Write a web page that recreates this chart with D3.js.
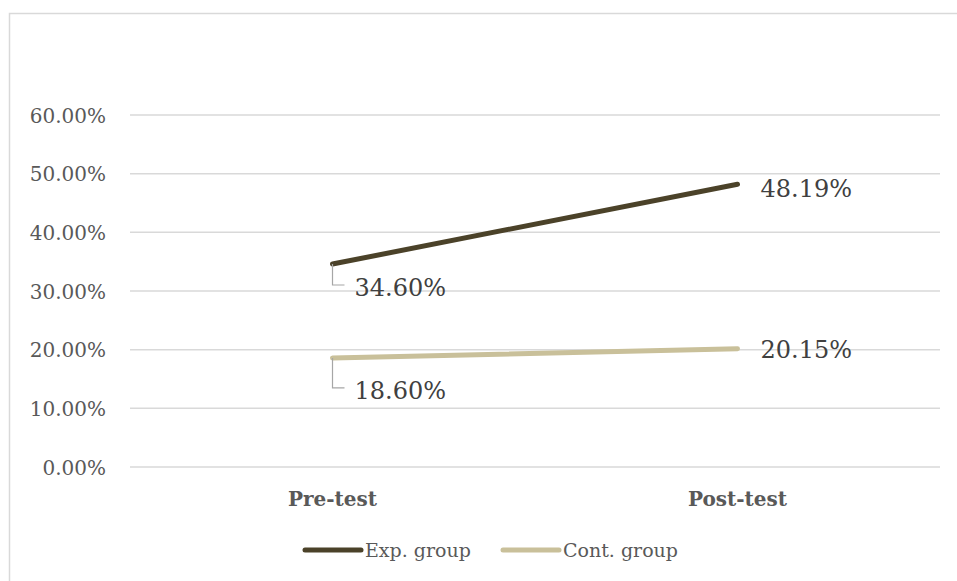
<!DOCTYPE html>
<html><head><meta charset="utf-8">
<script src="https://cdn.jsdelivr.net/npm/d3@7"></script>
<style>body{margin:0;background:#fff}svg{display:block}</style>
</head><body>
<svg id="c" width="957" height="581"></svg>
<script>
const categories = ["Pre-test", "Post-test"];
const expValues = [34.60, 48.19];
const contValues = [18.60, 20.15];
const seriesNames = ["Exp. group", "Cont. group"];
const seriesColors = ["#4b4229", "#c9c09a"];
const yTicks = [0, 10, 20, 30, 40, 50, 60];

const svg = d3.select("#c");
const font = "'DejaVu Serif', serif";
// outer frame
svg.append("path").attr("d", "M9.5,581 V13.5 H957").attr("fill", "none").attr("stroke", "#d9d9d9").attr("stroke-width", 1.5);

const x = d3.scaleBand().domain(categories).range([130, 940]);
const y = d3.scaleLinear().domain([0, 60]).range([467, 115]);

const g = svg.append("g");
g.selectAll(".grid").data(yTicks).join("line")
  .attr("x1", 130).attr("x2", 940).attr("y1", d => y(d)).attr("y2", d => y(d))
  .attr("stroke", "#d9d9d9").attr("stroke-width", 1.5);
g.selectAll(".ytl").data(yTicks).join("text")
  .attr("x", 106).attr("y", d => y(d)).attr("dy", "0.38em").attr("text-anchor", "end")
  .attr("font-family", font).attr("font-size", 20).attr("fill", "#595959")
  .text(d => d3.format(".2f")(d) + "%");
g.selectAll(".xtl").data(categories).join("text")
  .attr("x", d => x(d) + x.bandwidth() / 2).attr("y", 506).attr("text-anchor", "middle")
  .attr("font-family", font).attr("font-size", 20).attr("font-weight", "bold").attr("fill", "#595959")
  .text(d => d);

const series = [expValues, contValues];
const line = d3.line().x((d, i) => x(categories[i]) + x.bandwidth() / 2).y(d => y(d));
series.forEach((vals, s) => {
  g.append("path").attr("d", line(vals)).attr("fill", "none")
    .attr("stroke", seriesColors[s]).attr("stroke-width", 5).attr("stroke-linecap", "round");
});

// data labels
const fmt = v => d3.format(".2f")(v) + "%";
series.forEach((vals, s) => {
  const px = x(categories[0]) + x.bandwidth() / 2, py = y(vals[0]);
  const ly = s === 0 ? py + 21 : py + 30;
  g.append("path").attr("d", `M${px},${py} V${ly} H${px + 12}`).attr("fill", "none")
    .attr("stroke", "#a6a6a6").attr("stroke-width", 1.2);
  g.append("text").attr("x", px + 22).attr("y", ly).attr("dy", "0.45em")
    .attr("font-family", font).attr("font-size", 24).attr("fill", "#404040").text(fmt(vals[0]));
  const qx = x(categories[1]) + x.bandwidth() / 2, qy = y(vals[1]);
  g.append("text").attr("x", qx + 23).attr("y", qy + (s === 0 ? 4 : 0)).attr("dy", "0.38em")
    .attr("font-family", font).attr("font-size", 24).attr("fill", "#404040").text(fmt(vals[1]));
});

// legend
const legX = [305, 503];
seriesNames.forEach((n, i) => {
  svg.append("line").attr("x1", legX[i]).attr("x2", legX[i] + 56).attr("y1", 550).attr("y2", 550)
    .attr("stroke", seriesColors[i]).attr("stroke-width", 5).attr("stroke-linecap", "round");
  svg.append("text").attr("x", legX[i] + 60).attr("y", 550).attr("dy", "0.38em")
    .attr("font-family", font).attr("font-size", 19).attr("fill", "#595959").text(n);
});
</script>
</body></html>
